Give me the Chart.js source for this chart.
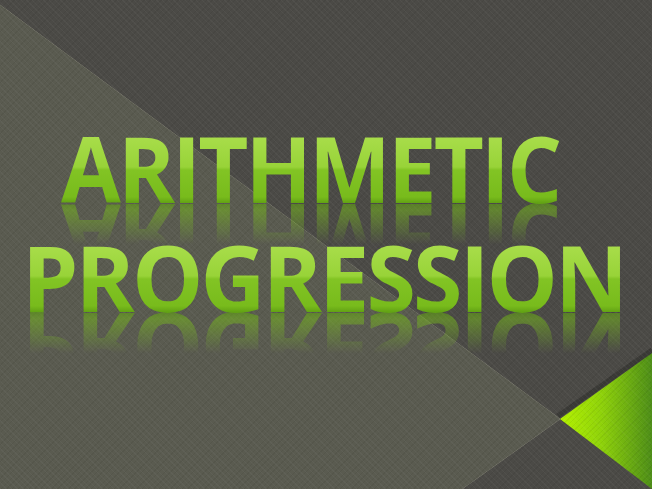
<!DOCTYPE html>
<html>
<head>
<meta charset="utf-8">
<title>Arithmetic Progression</title>
<script src="https://cdn.jsdelivr.net/npm/chart.js@4.4.1/dist/chart.umd.min.js"></script>
<style>
  html, body { margin: 0; padding: 0; background: #4b4a46; overflow: hidden; }
  #slide { position: relative; width: 652px; height: 489px; }
  #slide canvas { position: absolute; left: 0; top: 0; }
  #hatch {
    position: absolute; left: 0; top: 0; width: 652px; height: 489px; pointer-events: none;
    background:
      repeating-linear-gradient(45deg, rgba(255,255,255,0.035) 0 1px, transparent 1px 4px),
      repeating-linear-gradient(-45deg, rgba(0,0,0,0.05) 0 1px, transparent 1px 4px);
  }
  .title {
    position: absolute; left: 0; width: 2000px; margin: 0;
    font-family: "Open Sans", sans-serif; font-weight: 700;
    font-size: 92px; line-height: 92px; height: 92px;
    white-space: nowrap; transform-origin: 0 0;
  }
  .title span {
    display: inline-block; height: 92px;
    color: transparent;
    -webkit-background-clip: text; background-clip: text;
  }
</style>
</head>
<body>
<div id="slide">
  <canvas id="bg" width="652" height="489"></canvas>
  <div id="hatch"></div>
  <div class="title" id="line1"><span></span></div>
  <div class="title" id="line2"><span></span></div>
</div>
<script>
// slide geometry, in the units of the hidden 652 x 489 scales
const panelX = [0, 560, 462, 0, 0];
const panelY = [5, 419, 489, 489, 5];
const diagonalX = [0, 560, 462];
const diagonalY = [5, 419, 489];
const triangleX = [560, 652, 652, 560];
const triangleY = [419, 353, 489, 419];
const shadowX = [558, 652];
const shadowY = [416, 350];

// title lines: text, left edge, right edge, baseline
const titleLines = ['ARITHMETIC', 'PROGRESSION'];
const titleLeft = [61, 22];
const titleRight = [562, 628];
const titleBaseline = [203, 312];
const capHeight = 66;

const toPoints = (xs, ys) => xs.map((x, i) => ({ x: x, y: ys[i] }));

const chart = new Chart(document.getElementById('bg').getContext('2d'), {
    type: 'scatter',
    data: {
        datasets: [
            {
                label: 'panel',
                data: toPoints(panelX, panelY),
                showLine: true,
                borderWidth: 0,
                borderColor: 'rgba(0,0,0,0)',
                backgroundColor: '#5a5b50',
                fill: 'shape',
                pointRadius: 0
            },
            {
                label: 'shadow',
                data: toPoints(shadowX, shadowY),
                showLine: true,
                borderWidth: 5,
                borderColor: 'rgba(30,30,25,0.35)',
                fill: false,
                pointRadius: 0
            },
            {
                label: 'triangle',
                data: toPoints(triangleX, triangleY),
                showLine: true,
                borderWidth: 0,
                borderColor: 'rgba(0,0,0,0)',
                backgroundColor: function (ctx) {
                    const c = ctx.chart;
                    if (!c.chartArea) return '#8fd000';
                    const xs = c.scales.x;
                    const g = c.ctx.createLinearGradient(xs.getPixelForValue(560), 0, xs.getPixelForValue(652), 0);
                    g.addColorStop(0, '#b4f200');
                    g.addColorStop(0.45, '#8fd20a');
                    g.addColorStop(1, '#4e8e18');
                    return g;
                },
                fill: 'shape',
                pointRadius: 0
            },
            {
                label: 'diagonal',
                data: toPoints(diagonalX, diagonalY),
                showLine: true,
                borderWidth: 1,
                borderColor: 'rgba(170,170,150,0.55)',
                fill: false,
                pointRadius: 0
            }
        ]
    },
    options: {
        responsive: false,
        animation: false,
        layout: { padding: 0 },
        plugins: { legend: { display: false }, tooltip: { enabled: false } },
        scales: {
            x: { type: 'linear', min: 0, max: 652, display: false },
            y: { type: 'linear', min: 0, max: 489, reverse: true, display: false }
        }
    }
});

// fit the two title lines into their boxes, with a glossy fill and a reflection
const spacing = -3;
titleLines.forEach((text, i) => {
    const el = document.getElementById('line' + (i + 1));
    const span = el.firstElementChild;
    span.textContent = text;
    span.style.letterSpacing = spacing + 'px';

    // find the baseline inside the span
    const mark = document.createElement('i');
    mark.style.cssText = 'display:inline-block;width:0;height:0;vertical-align:baseline';
    span.appendChild(mark);
    const box = span.getBoundingClientRect();
    const base = mark.getBoundingClientRect().top - box.top;
    span.removeChild(mark);

    const w = span.getBoundingClientRect().width - spacing;
    const h = box.height;
    const top = base - capHeight;
    span.style.backgroundImage = 'linear-gradient(to bottom, #b4e45e 0px, #a8dd4a ' + top + 'px, #98d338 ' + (top + 30) + 'px, #82c424 ' + (top + 33) + 'px, #78bb1c ' + (base - 6) + 'px, #62a214 ' + base + 'px, #62a214 ' + h + 'px)';
    const off = -(2 * (h - base)) + 1;
    const fadeStart = base - 40;
    span.style.webkitBoxReflect = 'below ' + off + 'px linear-gradient(to bottom, transparent ' + fadeStart + 'px, rgba(0,0,0,0.6) ' + base + 'px)';

    const sx = (titleRight[i] - titleLeft[i]) / w;
    el.style.left = titleLeft[i] + 'px';
    el.style.top = (titleBaseline[i] - base) + 'px';
    el.style.transform = 'scaleX(' + sx.toFixed(3) + ')';
});
</script>
</body>
</html>
